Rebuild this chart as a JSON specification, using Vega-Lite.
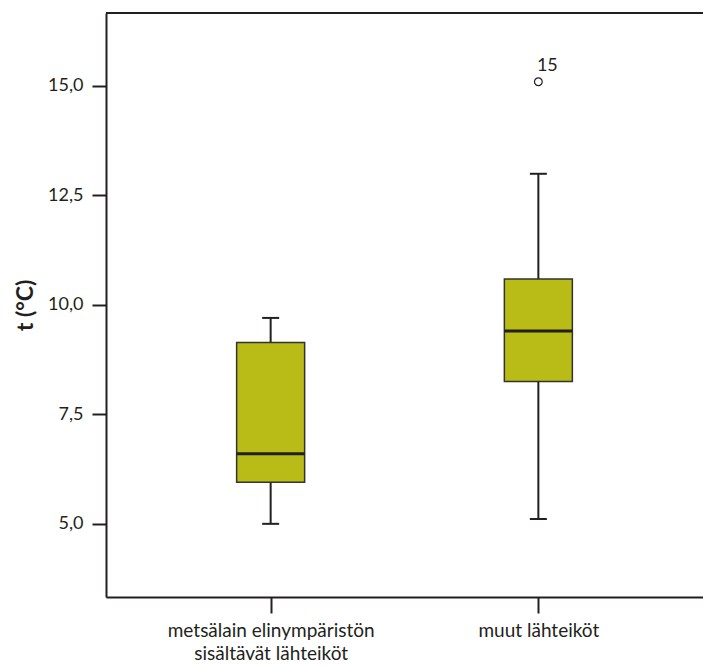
{
  "$schema": "https://vega.github.io/schema/vega-lite/v6.json",
  "autosize": {"type": "none"},
  "padding": {"left": 106, "top": 13, "right": 0, "bottom": 69},
  "width": 597,
  "height": 584,
  "config": {
    "view": {"stroke": null},
    "font": "Lato",
    "axis": {"labelFont": "Lato", "titleFont": "Lato", "labelColor": "#231f20", "titleColor": "#231f20", "domainColor": "#231f20", "tickColor": "#231f20", "domainWidth": 2, "tickWidth": 2, "grid": false}
  },
  "datasets": {
    "boxes": [
      {"group": "metsälain elinympäristön|sisältävät lähteiköt", "lower": 5.0, "q1": 5.95, "median": 6.6, "q3": 9.14, "upper": 9.7},
      {"group": "muut lähteiköt", "lower": 5.11, "q1": 8.25, "median": 9.4, "q3": 10.59, "upper": 12.99}
    ],
    "outliers": [
      {"group": "muut lähteiköt", "value": 15.09, "label": "15"}
    ]
  },
  "layer": [
    {
      "data": {"name": "boxes"},
      "mark": {"type": "rule", "color": "#231f20", "strokeWidth": 2},
      "encoding": {
        "x": {
          "field": "group", "type": "nominal", "sort": null,
          "scale": {"type": "point", "padding": 0.615},
          "axis": {"title": null, "labelAngle": 0, "labelFontSize": 19, "labelLimit": 400, "tickSize": 16, "labelPadding": 8, "labelLineHeight": 23, "labelExpr": "split(datum.value, '|')"}
        },
        "y": {"field": "lower", "type": "quantitative",
          "scale": {"domain": [3.33, 16.66], "nice": false, "zero": false},
          "axis": {"title": "t (°C)", "titleFontSize": 23, "titleFontWeight": "bold", "titlePadding": 10, "labelFontSize": 18, "tickSize": 14, "labelPadding": 9, "values": [5, 7.5, 10, 12.5, 15], "labelExpr": "replace(format(datum.value, '.1f'), '.', ',')"}},
        "y2": {"field": "upper"}
      }
    },
    {
      "data": {"name": "boxes"},
      "mark": {"type": "bar", "size": 68, "color": "#b9bb16", "stroke": "#333333", "strokeWidth": 1.5},
      "encoding": {
        "x": {"field": "group", "type": "nominal", "sort": null},
        "y": {"field": "q1", "type": "quantitative"},
        "y2": {"field": "q3"}
      }
    },
    {
      "data": {"name": "boxes"},
      "mark": {"type": "tick", "size": 68, "thickness": 3, "color": "#231f20", "opacity": 1},
      "encoding": {"x": {"field": "group", "type": "nominal", "sort": null}, "y": {"field": "median", "type": "quantitative"}}
    },
    {
      "data": {"name": "boxes"},
      "mark": {"type": "tick", "size": 17, "thickness": 2, "color": "#231f20", "opacity": 1},
      "encoding": {"x": {"field": "group", "type": "nominal", "sort": null}, "y": {"field": "lower", "type": "quantitative"}}
    },
    {
      "data": {"name": "boxes"},
      "mark": {"type": "tick", "size": 17, "thickness": 2, "color": "#231f20", "opacity": 1},
      "encoding": {"x": {"field": "group", "type": "nominal", "sort": null}, "y": {"field": "upper", "type": "quantitative"}}
    },
    {
      "data": {"name": "outliers"},
      "mark": {"type": "point", "shape": "circle", "size": 60, "filled": false, "stroke": "#231f20", "strokeWidth": 1.2, "opacity": 1},
      "encoding": {"x": {"field": "group", "type": "nominal", "sort": null}, "y": {"field": "value", "type": "quantitative"}}
    },
    {
      "data": {"name": "outliers"},
      "mark": {"type": "text", "fontSize": 18, "color": "#231f20", "dx": 9, "dy": -16, "font": "Lato"},
      "encoding": {"x": {"field": "group", "type": "nominal", "sort": null}, "y": {"field": "value", "type": "quantitative"}, "text": {"field": "label"}}
    },
    {
      "data": {"values": [{}]},
      "mark": {"type": "rule", "color": "#231f20", "strokeWidth": 2},
      "encoding": {"y": {"datum": 16.66}}
    }
  ]
}
